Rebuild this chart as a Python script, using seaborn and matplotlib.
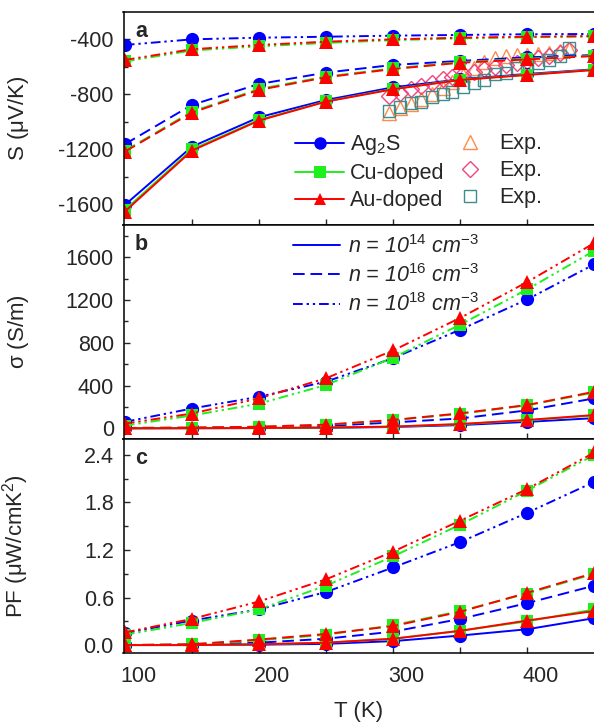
import matplotlib
matplotlib.use("Agg")
import matplotlib.pyplot as plt
import seaborn as sns
from matplotlib.lines import Line2D
from matplotlib.ticker import FormatStrFormatter

# ---------------- data ----------------
T = [90, 140, 190, 240, 290, 340, 390, 440]

# Seebeck coefficient (uV/K)
S_ag_14 = [-1604, -1180, -966, -840, -748, -690, -651, -617]
S_cu_14 = [-1640, -1200, -985, -850, -760, -693, -656, -620]
S_au_14 = [-1652, -1209, -990, -852, -762, -695, -658, -622]
S_ag_16 = [-1162, -876, -724, -641, -585, -556, -530, -513]
S_cu_16 = [-1210, -925, -760, -670, -610, -565, -540, -518]
S_au_16 = [-1216, -932, -767, -675, -615, -569, -545, -520]
S_ag_18 = [-440, -399, -387, -380, -372, -367, -362, -360]
S_cu_18 = [-560, -480, -450, -425, -405, -392, -384, -378]
S_au_18 = [-549, -471, -440, -416, -399, -387, -380, -375]

# experimental Seebeck
T_exp = [287, 295, 303, 311, 319, 327, 334, 342, 350, 358, 366, 374, 382, 390, 398, 406, 414, 421]
S_exp_tri = [-932, -900, -869, -835, -796, -755, -707, -658, -610, -561, -537, -520, -513, -510, -505, -496, -484, -471]
S_exp_dia = [-811, -787, -762, -738, -714, -690, -670, -651, -634, -617, -603, -588, -573, -554, -537, -520, -500, -476]
S_exp_sq = [-918, -888, -864, -852, -821, -799, -779, -743, -719, -695, -653, -641, -610, -598, -569, -549, -520, -464]

# electrical conductivity (S/m)
sig_ag_14 = [0, 1, 2, 5, 12, 30, 60, 95]
sig_cu_14 = [0, 1, 2, 6, 15, 38, 75, 120]
sig_au_14 = [0, 1, 3, 7, 16, 40, 78, 124]
sig_ag_16 = [2, 4, 9, 22, 55, 92, 168, 280]
sig_cu_16 = [3, 6, 14, 32, 75, 135, 215, 335]
sig_au_16 = [3, 7, 15, 34, 78, 140, 218, 342]
sig_ag_18 = [60, 185, 295, 436, 656, 922, 1205, 1534]
sig_cu_18 = [25, 120, 230, 405, 660, 969, 1299, 1660]
sig_au_18 = [44, 138, 280, 468, 728, 1032, 1368, 1732]

# power factor (uW/cmK^2)
pf_ag_14 = [0, 0, 0.005, 0.015, 0.05, 0.12, 0.20, 0.34]
pf_cu_14 = [0, 0, 0.01, 0.03, 0.08, 0.18, 0.30, 0.45]
pf_au_14 = [0, 0, 0.01, 0.03, 0.08, 0.18, 0.31, 0.43]
pf_ag_16 = [0, 0.005, 0.03, 0.08, 0.17, 0.33, 0.53, 0.75]
pf_cu_16 = [0, 0.01, 0.06, 0.13, 0.25, 0.43, 0.65, 0.90]
pf_au_16 = [0, 0.01, 0.07, 0.14, 0.24, 0.42, 0.66, 0.91]
pf_ag_18 = [0.15, 0.31, 0.45, 0.67, 0.98, 1.30, 1.67, 2.06]
pf_cu_18 = [0.13, 0.28, 0.45, 0.75, 1.12, 1.52, 1.95, 2.40]
pf_au_18 = [0.16, 0.33, 0.55, 0.83, 1.18, 1.57, 1.97, 2.43]

materials = ["Ag$_\\mathregular{2}$S", "Cu-doped", "Au-doped"]
n_labels = ["n = 10$^{14}$ cm$^{-3}$", "n = 10$^{16}$ cm$^{-3}$", "n = 10$^{18}$ cm$^{-3}$"]

# ---------------- style ----------------
sns.set_style("ticks")
plt.rcParams["font.family"] = ["Liberation Sans", "DejaVu Sans"]
plt.rcParams["mathtext.fontset"] = "custom"
plt.rcParams["mathtext.rm"] = "Liberation Sans"
plt.rcParams["mathtext.it"] = "Liberation Sans:italic"
plt.rcParams["mathtext.bf"] = "Liberation Sans:bold"
plt.rcParams["mathtext.default"] = "it"
plt.rcParams["axes.unicode_minus"] = False

BLUE, GREEN, RED = "#0000FF", "#1EF01E", "#FF0000"
C_TRI, C_DIA, C_SQ = "#FF8A4A", "#F0447E", "#3E8C8C"
LS = {14: "-", 16: (0, (6, 3)), 18: (0, (5, 2, 1.2, 2, 1.2, 2))}
MK = {BLUE: ("o", 9.5), GREEN: ("s", 8.5), RED: ("^", 9.5)}
LW = 1.4
FS = 15.5

fig = plt.figure(figsize=(5.94, 7.24), dpi=100)
L, R = 123.5 / 594, 1.003


def box(top, bot):
    return [L, 1 - bot / 724, R - L, (bot - top) / 724]


axa = fig.add_axes(box(12, 225))
axb = fig.add_axes(box(225, 439))
axc = fig.add_axes(box(439, 653))


def draw(ax, y, color, n):
    m, ms = MK[color]
    sns.lineplot(x=T, y=y, ax=ax, color=color, marker=m, markersize=ms,
                 markeredgecolor=color, markeredgewidth=0, linestyle=LS[n],
                 linewidth=LW, sort=False, estimator=None, errorbar=None,
                 legend=False)


def draw_exp(ax, y, color, marker, ms):
    sns.lineplot(x=T_exp, y=y, ax=ax, color=color, marker=marker, markersize=ms,
                 markerfacecolor="none", markeredgecolor=color, markeredgewidth=1.0,
                 linestyle="none", sort=False, estimator=None, errorbar=None,
                 legend=False)


# experimental first (below)
draw_exp(axa, S_exp_tri, C_TRI, "^", 10)
draw_exp(axa, S_exp_dia, C_DIA, "D", 8)
draw_exp(axa, S_exp_sq, C_SQ, "s", 9)

panels = [
    (axa, {BLUE: {14: S_ag_14, 16: S_ag_16, 18: S_ag_18},
           GREEN: {14: S_cu_14, 16: S_cu_16, 18: S_cu_18},
           RED: {14: S_au_14, 16: S_au_16, 18: S_au_18}}),
    (axb, {BLUE: {14: sig_ag_14, 16: sig_ag_16, 18: sig_ag_18},
           GREEN: {14: sig_cu_14, 16: sig_cu_16, 18: sig_cu_18},
           RED: {14: sig_au_14, 16: sig_au_16, 18: sig_au_18}}),
    (axc, {BLUE: {14: pf_ag_14, 16: pf_ag_16, 18: pf_ag_18},
           GREEN: {14: pf_cu_14, 16: pf_cu_16, 18: pf_cu_18},
           RED: {14: pf_au_14, 16: pf_au_16, 18: pf_au_18}}),
]
for ax, d in panels:
    for col in (BLUE, GREEN, RED):
        for n in (14, 16, 18):
            draw(ax, d[col][n], col, n)

# ---------------- axes ----------------
axa.set_ylim(-1750, -200)
axa.set_yticks([-1600, -1200, -800, -400])
axa.set_yticks([-1400, -1000, -600], minor=True)
axb.set_ylim(-100, 1900)
axb.set_yticks([0, 400, 800, 1200, 1600])
axb.set_yticks([200, 600, 1000, 1400, 1800], minor=True)
axc.set_ylim(-0.1, 2.6)
axc.set_yticks([0.0, 0.6, 1.2, 1.8, 2.4])
axc.set_yticks([0.3, 0.9, 1.5, 2.1], minor=True)
axc.yaxis.set_major_formatter(FormatStrFormatter("%.1f"))

for ax in (axa, axb, axc):
    ax.set_xlim(89, 441)
    ax.set_xticks([100, 200, 300, 400])
    ax.set_xticks([140, 190, 240, 290, 340, 390], minor=True)
    ax.tick_params(axis="x", which="major", length=0, labelsize=FS, pad=9)
    ax.tick_params(axis="x", which="minor", direction="in", length=4.5, width=1)
    ax.tick_params(axis="y", which="major", direction="in", length=4.5, width=1,
                   labelsize=FS, pad=7)
    ax.tick_params(axis="y", which="minor", direction="in", length=3, width=1)
    for sp in ax.spines.values():
        sp.set_linewidth(1.1)
        sp.set_color("black")
    ax.set_xlabel("")
for ax in (axa, axb):
    ax.tick_params(axis="x", labelbottom=False)

axa.set_ylabel("S ($\\mathregular{\\mu}$V/K)", fontsize=FS + 0.5)
axb.set_ylabel("$\\mathregular{\\sigma}$ (S/m)", fontsize=FS + 0.5)
axc.set_ylabel("PF ($\\mathregular{\\mu}$W/cmK$^\\mathregular{2}$)", fontsize=FS + 0.5)
for ax in (axa, axb, axc):
    ax.yaxis.set_label_coords(-0.195, 0.5)

fig.text(359 / 594, 1 - 711 / 724, "T (K)", ha="center", va="center", fontsize=FS + 0.5)

for ax, lab in ((axa, "a"), (axb, "b"), (axc, "c")):
    ax.text(0.038, 0.91 if lab == "a" else 0.91, lab, transform=ax.transAxes,
            fontsize=FS, fontweight="bold", ha="center", va="center")

# ---------------- legends ----------------
h_mat = [Line2D([], [], color=c, marker=MK[c][0], markersize=MK[c][1] * 0.95,
                markeredgewidth=0, linewidth=LW) for c in (BLUE, GREEN, RED)]
leg1 = axa.legend(h_mat, materials, loc="upper left", bbox_to_anchor=(0.364, 0.43),
                  frameon=False, borderpad=0, borderaxespad=0, handlelength=2.25,
                  handletextpad=0.3, labelspacing=0.28, fontsize=FS)
axa.add_artist(leg1)
h_exp = [Line2D([], [], color=c, marker=m, markersize=s, markerfacecolor="none",
                markeredgewidth=1.0, linestyle="none")
         for c, m, s in ((C_TRI, "^", 10), (C_DIA, "D", 8), (C_SQ, "s", 9))]
leg2 = axa.legend(h_exp, ["Exp.", "Exp.", "Exp."], loc="upper left",
                  bbox_to_anchor=(0.71, 0.43), frameon=False, borderpad=0,
                  borderaxespad=0, handlelength=1.0, handletextpad=0.9,
                  labelspacing=0.28, fontsize=FS)

h_n = [Line2D([], [], color=BLUE, linestyle=LS[n], linewidth=LW) for n in (14, 16, 18)]
axb.legend(h_n, n_labels, loc="upper left", bbox_to_anchor=(0.359, 0.955),
           frameon=False, borderpad=0, borderaxespad=0, handlelength=2.2,
           handletextpad=0.35, labelspacing=0.3, prop={"size": FS, "style": "italic"})

fig.savefig("out.png", dpi=100)
